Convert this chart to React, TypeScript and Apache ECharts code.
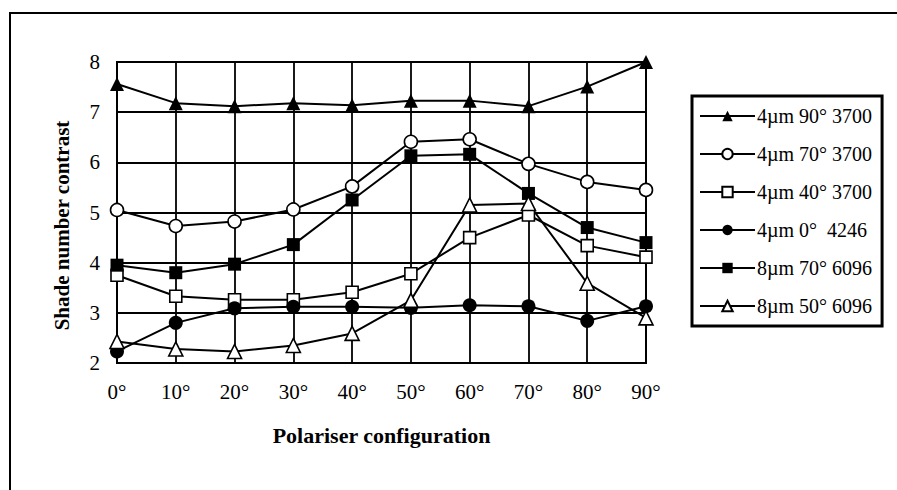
import React, { useEffect, useRef } from "react";
import * as echarts from "echarts";

const angles = [0, 10, 20, 30, 40, 50, 60, 70, 80, 90];
const s4um90 = [7.56, 7.18, 7.12, 7.18, 7.14, 7.23, 7.23, 7.12, 7.51, 8.0];
const s4um70 = [5.05, 4.73, 4.82, 5.06, 5.52, 6.41, 6.46, 5.97, 5.61, 5.45];
const s4um40 = [3.75, 3.33, 3.26, 3.26, 3.41, 3.78, 4.5, 4.95, 4.34, 4.11];
const s4um0 = [2.23, 2.8, 3.09, 3.12, 3.12, 3.1, 3.15, 3.13, 2.84, 3.13];
const s8um70 = [3.95, 3.8, 3.97, 4.36, 5.25, 6.13, 6.16, 5.38, 4.7, 4.4];
const s8um50 = [2.43, 2.28, 2.23, 2.35, 2.59, 3.25, 5.15, 5.18, 3.59, 2.9];
const seriesNames = [
  "4µm 90° 3700",
  "4µm 70° 3700",
  "4µm 40° 3700",
  "4µm 0°  4246",
  "8µm 70° 6096",
  "8µm 50° 6096",
];

const FONT = "Liberation Serif";

export default function App() {
  const ref = useRef<HTMLDivElement>(null);
  useEffect(() => {
    if (!ref.current) return;
    const chart = echarts.init(ref.current, undefined, { renderer: "svg" });
    const mk = (
      name: string,
      vals: number[],
      symbol: string,
      filled: boolean,
      size: number
    ) => ({
      name,
      type: "line",
      data: angles.map((a, i) => [a, vals[i]]),
      symbol,
      symbolSize: size,
      showSymbol: true,
      lineStyle: { color: "#000", width: 2 },
      itemStyle: {
        color: filled ? "#000" : "#fff",
        borderColor: "#000",
        borderWidth: filled ? 0 : 1.6,
      },
      emphasis: { disabled: true },
    });
    chart.setOption({
      animation: false,
      backgroundColor: "#fff",
      grid: {
        left: 117,
        top: 62,
        width: 529,
        height: 301,
        show: true,
        borderColor: "#000",
        borderWidth: 2,
      },
      xAxis: {
        type: "value",
        min: 0,
        max: 90,
        interval: 10,
        name: "Polariser configuration",
        nameLocation: "middle",
        nameGap: 61,
        nameTextStyle: {
          fontFamily: FONT,
          fontWeight: "bold",
          fontSize: 22,
          color: "#000",
        },
        axisLine: { show: true, lineStyle: { color: "#000", width: 2 } },
        axisTick: { show: false },
        axisLabel: {
          margin: 18,
          fontFamily: FONT,
          fontSize: 21,
          color: "#000",
          formatter: (v: number) => v + "°",
        },
        splitLine: { show: true, lineStyle: { color: "#000", width: 1.8 } },
      },
      yAxis: {
        type: "value",
        min: 2,
        max: 8,
        interval: 1,
        name: "Shade number contrast",
        nameLocation: "middle",
        nameGap: 45,
        nameTextStyle: {
          fontFamily: FONT,
          fontWeight: "bold",
          fontSize: 21,
          color: "#000",
          padding: [0, 26, 0, 0],
        },
        axisLine: { show: true, lineStyle: { color: "#000", width: 2 } },
        axisTick: { show: false },
        axisLabel: {
          margin: 17,
          fontFamily: FONT,
          fontSize: 21,
          color: "#000",
        },
        splitLine: { show: true, lineStyle: { color: "#000", width: 1.8 } },
      },
      legend: {
        orient: "vertical",
        left: 692,
        top: 96,
        data: seriesNames,
        itemWidth: 55,
        itemHeight: 13,
        itemGap: 18,
        padding: [10, 10, 10, 7],
        borderColor: "#000",
        borderWidth: 3,
        textStyle: { fontFamily: FONT, fontSize: 20, color: "#000", padding: [0, 0, 0, -3] },
        selectedMode: false,
      },
      graphic: [
        {
          type: "polyline",
          shape: { points: [[10, 490], [10, 13], [897, 13]] },
          style: { stroke: "#000", lineWidth: 2, fill: null },
          silent: true,
        },
      ],
      series: [
        mk(seriesNames[0], s4um90, "triangle", true, 14),
        mk(seriesNames[1], s4um70, "circle", false, 13),
        mk(seriesNames[2], s4um40, "rect", false, 12),
        mk(seriesNames[3], s4um0, "circle", true, 14),
        mk(seriesNames[4], s8um70, "rect", true, 13),
        mk(seriesNames[5], s8um50, "triangle", false, 14),
      ],
    });
    return () => chart.dispose();
  }, []);
  return (
    <div
      ref={ref}
      style={{ position: "fixed", left: 0, top: 0, width: 897, height: 490 }}
    />
  );
}
